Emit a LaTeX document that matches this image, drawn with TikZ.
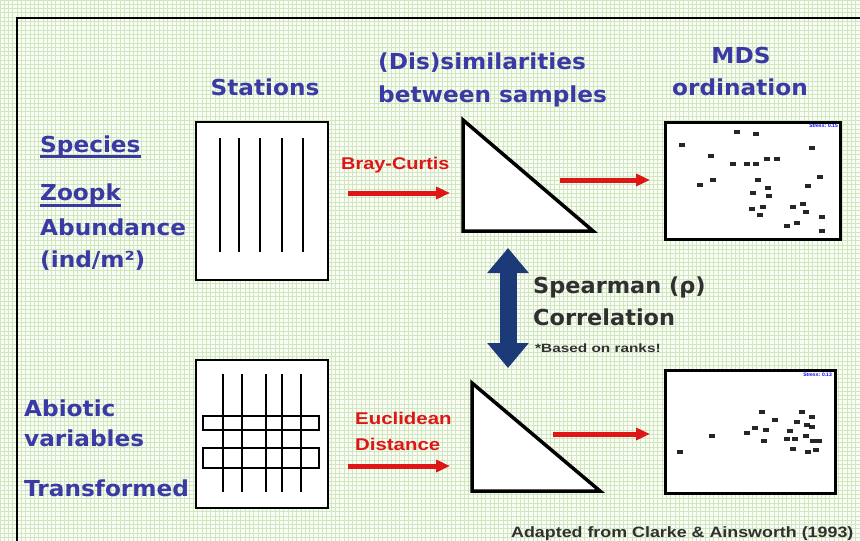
\documentclass[tikz,border=0pt]{standalone}
\usepackage{fontspec}
\setmainfont{DejaVu Sans}
\newfontfamily\arialfont{Liberation Sans}
\usetikzlibrary{arrows.meta,calc}
\definecolor{lblue}{RGB}{58,58,165}
\definecolor{redc}{RGB}{222,22,22}
\definecolor{navyc}{RGB}{28,58,120}
\definecolor{gridg}{RGB}{208,230,190}
\definecolor{bgc}{RGB}{250,253,246}
\definecolor{darkt}{RGB}{48,48,48}
\newcommand\hstr[2]{\scalebox{#1}[1]{#2}}
\newcommand\hw[1]{\scalebox{1.055}[1]{#1}}
\begin{document}
\begin{tikzpicture}[x=1pt,y=-1pt,
  hdr/.style={font=\fontsize{22}{26}\selectfont\bfseries, text=lblue, inner sep=0pt, anchor=base},
  lbl/.style={hdr, anchor=base west},
  redlbl/.style={font=\arialfont\fontsize{17}{20}\selectfont\bfseries, text=redc, inner sep=0pt, anchor=base west},
  redarrow/.style={draw=redc, line width=5pt, -{Triangle[length=14pt,width=12pt]}},
  stbox/.style={draw=black, line width=2pt, fill=white, minimum width=132pt, minimum height=158pt, inner sep=0pt},
  mdsbox/.style={draw=black, line width=3pt, fill=white, inner sep=0pt},
  tri/.style={draw=black, line width=3.5pt, fill=white, line join=miter},
  stline/.style={line width=2.5pt, black},
  darklbl/.style={font=\fontsize{22}{26}\selectfont\bfseries, text=darkt, inner sep=0pt, anchor=base west},
  smalllbl/.style={font=\arialfont\fontsize{12}{14}\selectfont\bfseries, text=darkt, inner sep=0pt, anchor=base west},
  pt/.style={fill=black, opacity=0.85},
  stress/.style={font=\arialfont\fontsize{5}{6}\selectfont\bfseries, text=blue, inner sep=0pt, anchor=north east}
]
\useasboundingbox (0,0) rectangle (860,541);
\clip (0,0) rectangle (860,541);
\fill[bgc] (0,0) rectangle (860,541);
\foreach \x in {0,4.3,...,862} {\draw[gridg, line width=0.9pt] (\x,0) -- (\x,541);}
\foreach \y in {0,4.3,...,543} {\draw[gridg, line width=0.9pt] (0,\y) -- (860,\y);}
% frame
\draw[line width=2pt, black] (17,18) rectangle (880,560);

% headings
\node[hdr] (stations) at (265,95) {\hw{Stations}};
\node[lbl] (dis1) at (378,69) {\hw{(Dis)similarities}};
\node[lbl] (dis2) at (378,102) {\hw{between samples}};
\node[hdr] (mds1) at (741,63) {\hw{MDS}};
\node[hdr] (mds2) at (740,95) {\hw{ordination}};

% left labels
\node[lbl] (species) at (40,152) {\hw{Species}};
\node[lbl] (zoopk) at (40,200) {\hw{Zoopk}};
\node[lbl] (abund) at (40,235) {\hw{Abundance}};
\node[lbl] (indm) at (40,267) {\hw{(ind/m²)}};
\draw[lblue, line width=3pt] ($(species.base west)+(0,4)$) -- ($(species.base east)+(0,4)$);
\draw[lblue, line width=3pt] ($(zoopk.base west)+(0,5.5)$) -- ($(zoopk.base east)+(0,5.5)$);
\node[lbl] (abiotic) at (24,416) {\hw{Abiotic}};
\node[lbl] (variab) at (24,446) {\hw{variables}};
\node[lbl] (transf) at (24,496) {\hw{Transformed}};

% station boxes
\node[stbox] (st1) at (262,201) {};
\foreach \x in {220,239,260,282,303} {\draw[stline] (\x,138) -- (\x,252);}
\node[stbox, minimum height=148pt] (st2) at (262,434) {};
\draw[line width=2.5pt] (203,416) rectangle (319,430);
\draw[line width=2.5pt] (203,448) rectangle (319,468);
\foreach \x in {223,242,266,282,301} {\draw[stline] (\x,374) -- (\x,492);}

% triangles
\coordinate (t1a) at (463,120); \coordinate (t1b) at (463,231); \coordinate (t1c) at (593,231);
\draw[tri] (t1a) -- (t1b) -- (t1c) -- cycle;
\coordinate (t2a) at (472,383); \coordinate (t2b) at (472,491); \coordinate (t2c) at (600,491);
\draw[tri] (t2a) -- (t2b) -- (t2c) -- cycle;

% red arrows and labels
\coordinate (a1s) at (348,193); \coordinate (a1e) at (450,193);
\coordinate (a2s) at (560,180); \coordinate (a2e) at (650,180);
\coordinate (a3s) at (348,466); \coordinate (a3e) at (450,466);
\coordinate (a4s) at (553,434); \coordinate (a4e) at (650,434);
\draw[redarrow] (a1s) -- (a1e);
\draw[redarrow] (a2s) -- (a2e);
\draw[redarrow] (a3s) -- (a3e);
\draw[redarrow] (a4s) -- (a4e);
\node[redlbl] (bray) at (341,169) {\hstr{1.17}{Bray-Curtis}};
\node[redlbl] (eucl) at (355,424) {\hstr{1.2}{Euclidean}};
\node[redlbl] (dist) at (355,450) {\hstr{1.2}{Distance}};

% double arrow
\coordinate (dtop) at (508,248); \coordinate (dbot) at (508,368);
\draw[navyc, line width=17pt, {Triangle[length=25pt,width=40pt]}-{Triangle[length=25pt,width=40pt]}] (dtop) -- (dbot);
\node[darklbl] (spear) at (533,293) {\hstr{1.02}{Spearman (ρ)}};
\node[darklbl] (corr) at (533,325) {\hstr{1.02}{Correlation}};
\node[smalllbl] (based) at (535,352) {\hstr{1.28}{*Based on ranks!}};

% MDS plots
\node[mdsbox, minimum width=175pt, minimum height=117pt] (mdsA) at (752.5,180.5) {};
\node[stress] (stA) at (838,124) {Stress: 0.15};
\foreach \x/\y in {737/132,756/134,682/145,812/148,711/156,733/164,747/164,756/164,767/159,777/159,820/177,713/180,700/185,758/180,768/188,808/186,753/193,769/196,763/207,752/209,760/215,793/207,803/204,806/212,822/217,787/226,797/223,822/231}
  {\fill[pt] (\x-3,\y-2) rectangle (\x+3,\y+2);}
\node[mdsbox, minimum width=170pt, minimum height=123pt] (mdsB) at (750,431.5) {};
\node[stress] (stB) at (832,373) {Stress: 0.13};
\foreach \x/\y in {762/412,775/420,802/412,812/417,797/422,807/425,812/427,755/428,766/430,747/433,712/436,790/431,764/441,787/439,795/439,806/436,813/441,819/441,793/449,808/452,816/450,680/452}
  {\fill[pt] (\x-3,\y-2) rectangle (\x+3,\y+2);}

% credit
\node[smalllbl, font=\arialfont\fontsize{15}{17}\selectfont\bfseries] (credit) at (511,537) {\hstr{1.19}{Adapted from Clarke \& Ainsworth (1993)}};
\end{tikzpicture}
\end{document}
